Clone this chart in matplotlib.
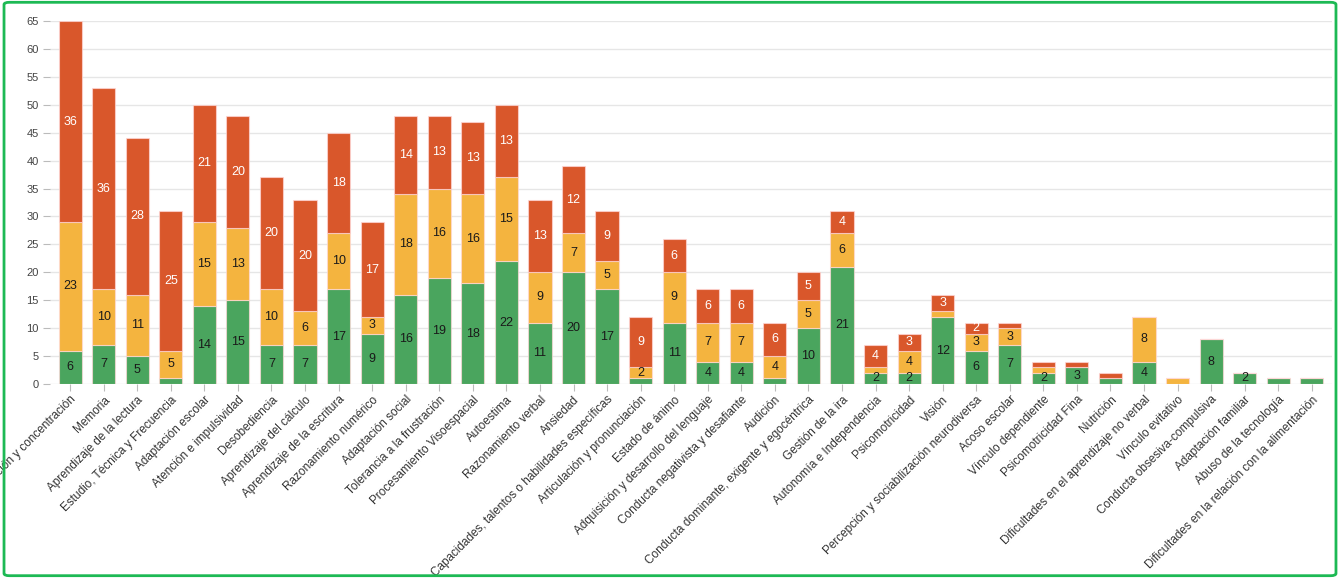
import matplotlib
matplotlib.use("Agg")
import matplotlib.pyplot as plt
from matplotlib.patches import FancyBboxPatch
import numpy as np

plt.rcParams['font.family'] = ['Liberation Sans', 'DejaVu Sans']

categories = [
    "Atención y concentración", "Memoria", "Aprendizaje de la lectura",
    "Estudio, Técnica y Frecuencia", "Adaptación escolar", "Atención e impulsividad",
    "Desobediencia", "Aprendizaje del cálculo", "Aprendizaje de la escritura",
    "Razonamiento numérico", "Adaptación social", "Tolerancia a la frustración",
    "Procesamiento Visoespacial", "Autoestima", "Razonamiento verbal", "Ansiedad",
    "Capacidades, talentos o habilidades específicas", "Articulación y pronunciación",
    "Estado de ánimo", "Adquisición y desarrollo del lenguaje",
    "Conducta negativista y desafiante", "Audición",
    "Conducta dominante, exigente y egocéntrica", "Gestión de la ira",
    "Autonomía e Independencia", "Psicomotricidad", "Visión",
    "Percepción y sociabilización neurodiversa", "Acoso escolar",
    "Vínculo dependiente", "Psicomotricidad Fina", "Nutrición",
    "Dificultades en el aprendizaje no verbal", "Vínculo evitativo",
    "Conducta obsesiva-compulsiva", "Adaptación familiar",
    "Abuso de la tecnología", "Dificultades en la relación con la alimentación",
]
green = [6, 7, 5, 1, 14, 15, 7, 7, 17, 9, 16, 19, 18, 22, 11, 20, 17, 1, 11, 4,
         4, 1, 10, 21, 2, 2, 12, 6, 7, 2, 3, 1, 4, 0, 8, 2, 1, 1]
yellow = [23, 10, 11, 5, 15, 13, 10, 6, 10, 3, 18, 16, 16, 15, 9, 7, 5, 2, 9, 7,
          7, 4, 5, 6, 1, 4, 1, 3, 3, 1, 0, 0, 8, 1, 0, 0, 0, 0]
red = [36, 36, 28, 25, 21, 20, 20, 20, 18, 17, 14, 13, 13, 13, 13, 12, 9, 9, 6, 6,
       6, 6, 5, 4, 4, 3, 3, 2, 1, 1, 1, 1, 0, 0, 0, 0, 0, 0]
y_ticks = list(range(0, 70, 5))

series = [(green, "#4AA55E", "#1a1a1a"),
          (yellow, "#F4B43F", "#1a1a1a"),
          (red, "#D9572B", "#ffffff")]

fig = plt.figure(figsize=(13.4, 5.78), dpi=100)
ax = fig.add_axes([0.0373, 0.3356, 0.9567, 0.6281])

x = np.arange(len(categories))
bottom = np.zeros(len(categories))
for vals, col, tcol in series:
    v = np.array(vals, dtype=float)
    ax.bar(x, v, bottom=bottom, width=0.69, color=col,
           edgecolor=(1, 0.85, 0.85, 0.7), linewidth=0.8, zorder=3)
    for xi, (b, h) in enumerate(zip(bottom, v)):
        if h >= 2:
            ax.text(xi, b + h / 2, f"{int(h)}", ha='center', va='center',
                    fontsize=9, color=tcol, zorder=4)
    bottom += v

ax.set_xlim(-0.6, len(categories) - 1 + 0.6)
ax.set_ylim(0, 65)
ax.set_yticks(y_ticks)
ax.yaxis.grid(True, color="#e6e6e6", linewidth=1, zorder=0)
ax.set_axisbelow(True)
for s in ax.spines.values():
    s.set_visible(False)
ax.tick_params(axis='y', length=5, color="#bbbbbb", labelsize=8, labelcolor="#444444", pad=3)
ax.tick_params(axis='x', length=5, color="#bbbbbb", labelsize=8.5, labelcolor="#333333", pad=2)
ax.set_xticks(x)
ax.set_xticklabels(categories, rotation=45, ha='right', rotation_mode='anchor')

border = FancyBboxPatch((0.003, 0.004), 0.994, 0.992, boxstyle="round,pad=0,rounding_size=0.004",
                        transform=fig.transFigure, fill=False, edgecolor="#1DB954",
                        linewidth=2, zorder=10)
fig.patches.append(border)

fig.savefig("out.png", dpi=100)
